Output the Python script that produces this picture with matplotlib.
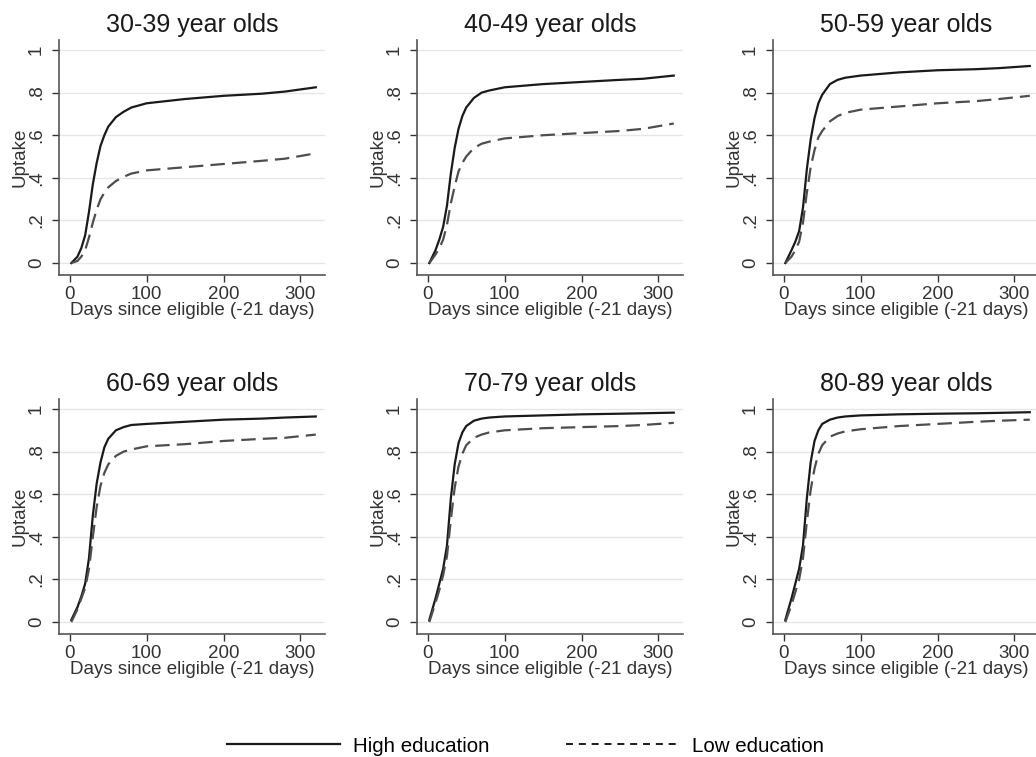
import matplotlib
matplotlib.use("Agg")
from matplotlib import pyplot as plt
from matplotlib.lines import Line2D

plt.rcParams["font.family"] = ["Liberation Sans", "DejaVu Sans"]

days = [2, 10, 15, 20, 25, 30, 35, 40, 45, 50, 60, 70, 80, 100, 150, 200, 250, 280, 320]

age_groups = ["30-39 year olds", "40-49 year olds", "50-59 year olds",
              "60-69 year olds", "70-79 year olds", "80-89 year olds"]

high_30 = [0.00, 0.03, 0.07, 0.13, 0.24, 0.37, 0.47, 0.55, 0.60, 0.64, 0.685, 0.71, 0.73, 0.75, 0.77, 0.785, 0.795, 0.805, 0.825]
low_30 = [0.00, 0.01, 0.03, 0.06, 0.12, 0.19, 0.25, 0.30, 0.33, 0.355, 0.385, 0.405, 0.42, 0.435, 0.45, 0.465, 0.48, 0.49, 0.515]
high_40 = [0.00, 0.06, 0.11, 0.17, 0.27, 0.42, 0.54, 0.63, 0.69, 0.73, 0.775, 0.80, 0.81, 0.825, 0.84, 0.85, 0.86, 0.865, 0.88]
low_40 = [0.00, 0.04, 0.07, 0.11, 0.18, 0.28, 0.36, 0.43, 0.47, 0.50, 0.54, 0.56, 0.57, 0.585, 0.60, 0.61, 0.62, 0.63, 0.655]
high_50 = [0.00, 0.06, 0.10, 0.15, 0.26, 0.44, 0.58, 0.68, 0.75, 0.79, 0.84, 0.86, 0.87, 0.88, 0.895, 0.905, 0.91, 0.915, 0.925]
low_50 = [0.00, 0.03, 0.06, 0.10, 0.19, 0.33, 0.45, 0.53, 0.59, 0.62, 0.665, 0.69, 0.705, 0.72, 0.735, 0.75, 0.76, 0.77, 0.785]
high_60 = [0.01, 0.07, 0.12, 0.18, 0.30, 0.50, 0.65, 0.75, 0.82, 0.86, 0.90, 0.915, 0.925, 0.93, 0.94, 0.95, 0.955, 0.96, 0.965]
low_60 = [0.00, 0.06, 0.11, 0.16, 0.25, 0.40, 0.54, 0.64, 0.70, 0.74, 0.78, 0.80, 0.81, 0.825, 0.835, 0.85, 0.86, 0.865, 0.88]
high_70 = [0.01, 0.11, 0.18, 0.25, 0.36, 0.58, 0.74, 0.84, 0.89, 0.92, 0.945, 0.955, 0.96, 0.965, 0.97, 0.975, 0.978, 0.98, 0.983]
low_70 = [0.00, 0.09, 0.15, 0.22, 0.31, 0.48, 0.63, 0.73, 0.79, 0.83, 0.865, 0.88, 0.89, 0.90, 0.91, 0.915, 0.92, 0.925, 0.935]
high_80 = [0.01, 0.11, 0.18, 0.25, 0.36, 0.58, 0.75, 0.85, 0.90, 0.93, 0.95, 0.96, 0.965, 0.97, 0.975, 0.978, 0.98, 0.982, 0.985]
low_80 = [0.00, 0.08, 0.14, 0.20, 0.30, 0.47, 0.62, 0.72, 0.79, 0.83, 0.87, 0.885, 0.895, 0.905, 0.92, 0.93, 0.94, 0.945, 0.95]

high_list = [high_30, high_40, high_50, high_60, high_70, high_80]
low_list = [low_30, low_40, low_50, low_60, low_70, low_80]

y_ticks = [0, 0.2, 0.4, 0.6, 0.8, 1]
y_tick_labels = ["0", ".2", ".4", ".6", ".8", "1"]
x_ticks = [0, 100, 200, 300]

fig = plt.figure(figsize=(10.36, 7.57), dpi=100)

lefts = [59 / 1036, 417 / 1036, 773 / 1036]
bottoms = [1 - 275 / 757, 1 - 634 / 757]
width = 266 / 1036
height = 235 / 757

for i, title in enumerate(age_groups):
    ax = fig.add_axes([lefts[i % 3], bottoms[i // 3], width, height])
    ax.plot(days, high_list[i], color="#1a1a1a", lw=1.6)
    ax.plot(days, low_list[i], color="#4d4d4d", lw=1.6, dashes=(6.5, 3.2))
    ax.set_xlim(-14, 332)
    ax.set_ylim(-0.056, 1.047)
    ax.set_yticks(y_ticks)
    ax.set_yticklabels(y_tick_labels, rotation=90, va="center")
    ax.set_xticks(x_ticks)
    ax.yaxis.grid(True, color="#e6e6e6", lw=1.0)
    ax.set_axisbelow(True)
    for side in ["top", "right"]:
        ax.spines[side].set_visible(False)
    for side in ["left", "bottom"]:
        ax.spines[side].set_color("#555555")
        ax.spines[side].set_linewidth(1.2)
    ax.tick_params(colors="#333333", labelsize=13.5, length=5, width=1.0)
    ax.tick_params(axis="x", pad=3)
    ax.tick_params(axis="y", pad=5)
    ax.set_title(title, fontsize=18, color="#1a1a1a", pad=6)
    ax.set_ylabel("Uptake", fontsize=13.5, color="#333333", labelpad=0)
    ax.set_xlabel("Days since eligible (-21 days)", fontsize=13.5, color="#333333", labelpad=-1)

handles = [
    Line2D([], [], color="#1a1a1a", lw=1.6),
    Line2D([], [], color="#1a1a1a", lw=1.4, dashes=(3.6, 3.0)),
]
fig.legend(handles, ["High education", "Low education"], loc="center",
           bbox_to_anchor=(0.507, 0.0145), ncol=2, frameon=False,
           fontsize=14.8, handlelength=5.5, columnspacing=3.7, handletextpad=0.63)

fig.savefig("out.png", dpi=100)
